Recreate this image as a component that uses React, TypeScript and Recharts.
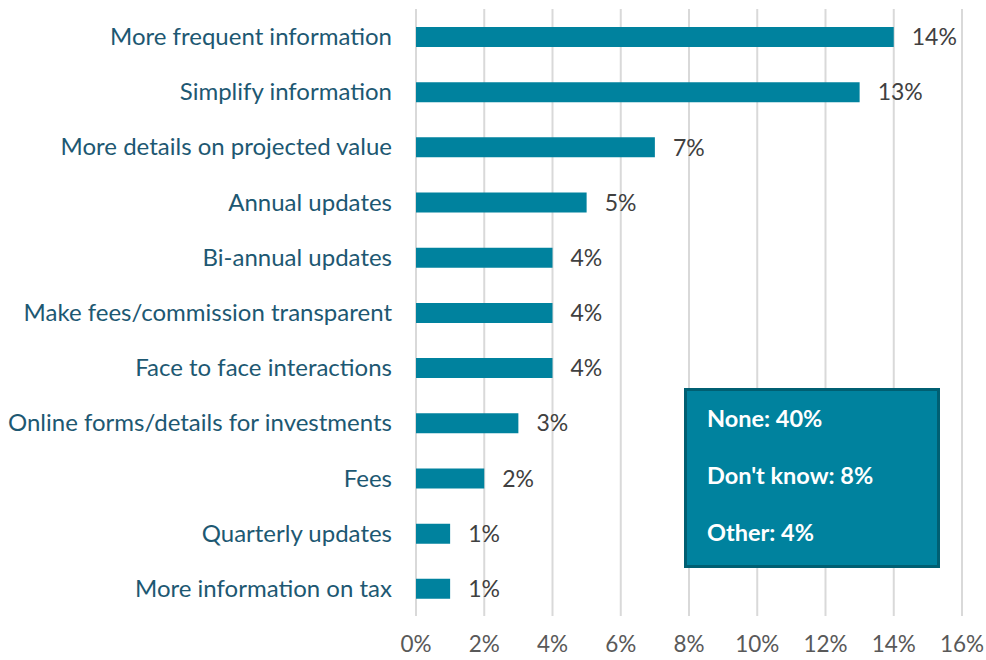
import React from "react";
import { Bar, BarChart, CartesianGrid, LabelList, XAxis, YAxis } from "recharts";

const categories = [
  "More frequent information",
  "Simplify information",
  "More details on projected value",
  "Annual updates",
  "Bi-annual updates",
  "Make fees/commission transparent",
  "Face to face interactions",
  "Online forms/details for investments",
  "Fees",
  "Quarterly updates",
  "More information on tax",
];

const shares = [14, 13, 7, 5, 4, 4, 4, 3, 2, 1, 1];

const xTicks = [0, 2, 4, 6, 8, 10, 12, 14, 16];

const otherAnswers = ["None: 40%", "Don't know: 8%", "Other: 4%"];

const chartData = categories.map((name, i) => ({ name, share: shares[i] }));

const FONT = "Lato, 'Noto Sans', sans-serif";

export default function App() {
  return (
    <div style={{ position: "absolute", left: 0, top: 0, width: 986, height: 660, fontFamily: FONT, background: "#fff" }}>
      <BarChart
        width={986}
        height={660}
        data={chartData}
        layout="vertical"
        margin={{ top: 9, right: 24, bottom: 0, left: 0 }}
      >
        <CartesianGrid horizontal={false} stroke="#d9d9d9" strokeWidth={2} />
        <XAxis
          type="number"
          domain={[0, 16]}
          ticks={xTicks}
          tickFormatter={(v: number) => `${v}%`}
          axisLine={false}
          tickLine={false}
          tickSize={0}
          tickMargin={20}
          height={44}
          interval={0}
          tick={{ fill: "#595959", fontSize: 22.5, fontFamily: FONT }}
        />
        <YAxis
          type="category"
          dataKey="name"
          width={416}
          axisLine={false}
          tickLine={false}
          tickSize={0}
          tickMargin={24}
          interval={0}
          tick={{ fill: "#1d5872", fontSize: 24, fontFamily: FONT }}
        />
        <Bar dataKey="share" fill="#00829e" barSize={20} isAnimationActive={false}>
          <LabelList
            dataKey="share"
            position="right"
            offset={18}
            formatter={(v: number) => `${v}%`}
            style={{ fill: "#404040", fontSize: 23, fontFamily: FONT }}
          />
        </Bar>
      </BarChart>
      <div
        style={{
          position: "absolute",
          left: 684,
          top: 388,
          width: 256,
          height: 180,
          boxSizing: "border-box",
          background: "#00829e",
          border: "3px solid #005f72",
        }}
      >
        {otherAnswers.map((t, i) => (
          <div
            key={t}
            style={{
              position: "absolute",
              left: 20,
              top: 13 + i * 57,
              color: "#fff",
              fontWeight: 700,
              fontSize: 23.5,
              lineHeight: "28px",
              whiteSpace: "nowrap",
            }}
          >
            {t}
          </div>
        ))}
      </div>
    </div>
  );
}
